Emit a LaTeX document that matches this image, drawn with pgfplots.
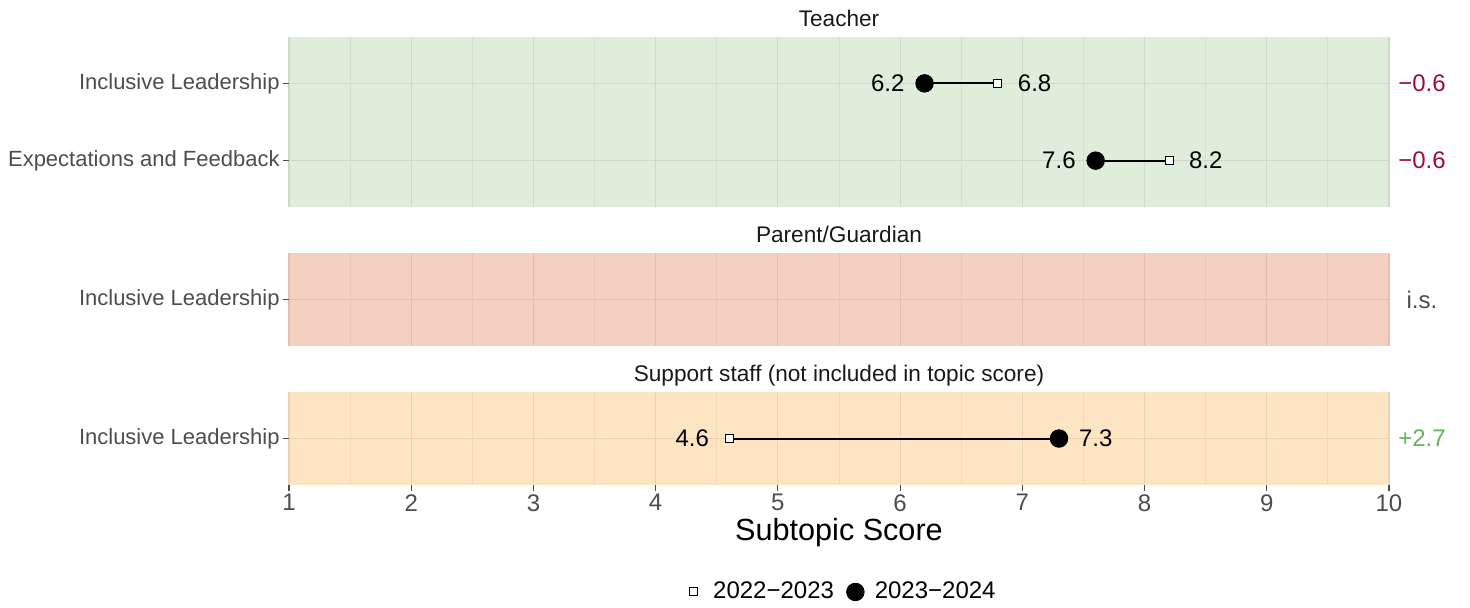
\documentclass[border=0pt]{standalone}
\usepackage{pgfplots}
\pgfplotsset{compat=1.18}
\usepackage{fontspec}
\setmainfont{Liberation Sans}
\definecolor{bggreen}{RGB}{223,237,219}
\definecolor{bgred}{RGB}{245,207,191}
\definecolor{bgorange}{RGB}{253,229,195}
\definecolor{labgray}{RGB}{77,77,77}
\definecolor{negred}{RGB}{160,12,58}
\definecolor{posgreen}{RGB}{98,182,90}
\pgfplotsset{
  panel/.style={
    scale only axis, width=550pt, xmin=1, xmax=10,
    xtick={1,...,10}, minor xtick={1.5,2.5,...,9.5},
    xmajorgrids, xminorgrids, ymajorgrids,
    axis line style={draw=none},
    tick align=outside, xtick pos=bottom, ytick pos=left,
    major tick length=3pt,
    major tick style={color=labgray, line width=0.6pt},
    minor tick style={draw=none},
    yticklabel style={font=\fontsize{11}{13}\selectfont, color=labgray, inner sep=0pt, xshift=-1.5pt},
    xticklabel style={font=\fontsize{12}{14}\selectfont, color=labgray, inner sep=0pt, yshift=-1.5pt},
    /pgf/number format/assume math mode=true,
    clip=false,
    title style={font=\fontsize{11.3}{13}\selectfont, color=black!90, anchor=base, at={(0.5,1)}, yshift=-0.5pt},
  },
  seg/.style={black, line width=1pt, mark=none, forget plot},
  old/.style={only marks, mark=square*, mark size=2pt, mark options={fill=white, draw=black, line width=0.5pt},
    legend image code/.code={\path (-7.5pt,0pt) (7.5pt,0pt); \draw[##1] plot coordinates {(0pt,0pt)};}},
  new/.style={only marks, mark=*, mark size=4.4pt, mark options={fill=black, draw=black},
    legend image code/.code={\path (-7.5pt,0pt) (7.5pt,0pt); \draw[##1] plot coordinates {(0pt,0pt)};}},
  lowlab/.style={draw=none, mark=none, forget plot, nodes near coords, point meta=explicit symbolic,
    every node near coord/.style={anchor=east, xshift=-6.5pt, font=\fontsize{12}{14}\selectfont, text=black}},
  highlab/.style={draw=none, mark=none, forget plot, nodes near coords, point meta=explicit symbolic,
    every node near coord/.style={anchor=west, xshift=6.5pt, font=\fontsize{12}{14}\selectfont, text=black}},
  difflab/.style={draw=none, mark=none, forget plot, nodes near coords, point meta=explicit symbolic,
    every node near coord/.style={anchor=center, font=\fontsize{12}{14}\selectfont, text=#1}},
}
\begin{document}
\begin{tikzpicture}
\path[use as bounding box] (0,0) rectangle (735pt,-303.5pt);
% Teacher
\begin{axis}[panel, at={(144.5pt,-103.5pt)}, anchor=south west, height=85pt,
  ymin=0.4, ymax=2.6, ytick={1,2}, yticklabels={Expectations and Feedback, Inclusive Leadership},
  xticklabels={}, major x tick style={draw=none},
  axis background/.style={fill=bggreen},
  major grid style={color=bggreen!92!black, line width=0.6pt},
  minor grid style={color=bggreen!95!black, line width=0.4pt},
  title=Teacher]
\addplot[seg] coordinates {(6.2,2) (6.8,2)};
\addplot[seg] coordinates {(7.6,1) (8.2,1)};
\addplot[old] coordinates {(6.8,2) (8.2,1)};
\addplot[new] coordinates {(6.2,2) (7.6,1)};
\addplot[lowlab] table[meta=l] {
x y l
6.2 2 6.2
7.6 1 7.6
};
\addplot[highlab] table[meta=l] {
x y l
6.8 2 6.8
8.2 1 8.2
};
\addplot[difflab=negred] table[meta=l] {
x y l
10.27 2 −0.6
10.27 1 −0.6
};
\end{axis}
% Parent/Guardian
\begin{axis}[panel, at={(144.5pt,-173pt)}, anchor=south west, height=46.5pt,
  ymin=0.4, ymax=1.6, ytick={1}, yticklabels={Inclusive Leadership},
  xticklabels={}, major x tick style={draw=none},
  axis background/.style={fill=bgred},
  major grid style={color=bgred!92!black, line width=0.6pt},
  minor grid style={color=bgred!95!black, line width=0.4pt},
  title=Parent/Guardian]
\addplot[difflab=labgray] table[meta=l] {
x y l
10.27 1 i.s.
};
\end{axis}
% Support staff
\begin{axis}[panel, at={(144.5pt,-242.5pt)}, anchor=south west, height=46.5pt,
  ymin=0.4, ymax=1.6, ytick={1}, yticklabels={Inclusive Leadership},
  axis background/.style={fill=bgorange},
  major grid style={color=bgorange!92!black, line width=0.6pt},
  minor grid style={color=bgorange!95!black, line width=0.4pt},
  title={Support staff (not included in topic score)},
  xlabel={Subtopic Score},
  xlabel style={font=\fontsize{15.3}{18}\selectfont, color=black, at={(axis description cs:0.5,-0.51)}, anchor=center},
  legend columns=2,
  legend style={at={(axis description cs:0.5,-1.15)}, anchor=center, draw=none, fill=none,
    font=\fontsize{12}{14}\selectfont,
    /tikz/every even column/.append style={column sep=1pt}},
  ]
\addplot[seg] coordinates {(4.6,1) (7.3,1)};
\addplot[old] coordinates {(4.6,1)};
\addlegendentry{2022−2023}
\addplot[new] coordinates {(7.3,1)};
\addlegendentry{2023−2024}
\addplot[lowlab] table[meta=l] {
x y l
4.6 1 4.6
};
\addplot[highlab] table[meta=l] {
x y l
7.3 1 7.3
};
\addplot[difflab=posgreen] table[meta=l] {
x y l
10.27 1 +2.7
};
\end{axis}
\end{tikzpicture}
\end{document}
